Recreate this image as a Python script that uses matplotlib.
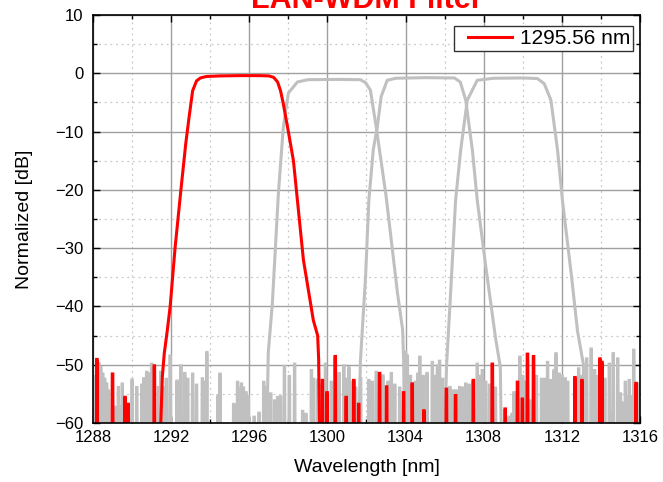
import matplotlib
matplotlib.use("Agg")
import matplotlib.pyplot as plt
from matplotlib.ticker import MultipleLocator
from matplotlib.legend_handler import HandlerLine2D

plt.rcParams['font.family'] = ['Liberation Sans', 'DejaVu Sans']

# ---- data ----
FLOOR = -70.0

red_wl = [1291.45, 1291.55, 1291.65, 1291.8, 1291.95, 1292.2, 1292.5, 1292.75, 1292.9,
          1293.1, 1293.3, 1293.5, 1293.8, 1294.5, 1295.5, 1296.5, 1297.0, 1297.25,
          1297.45, 1297.6, 1297.74, 1298.0, 1298.26, 1298.77, 1299.28, 1299.5, 1299.55, 1299.6]
red_db = [-62, -52, -48, -44.2, -40, -30, -20, -12, -8,
          -3, -1.3, -0.8, -0.55, -0.45, -0.4, -0.4, -0.45, -0.7,
          -1.5, -3, -5.2, -10, -15, -32, -42.4, -45, -49, -62]

g2_wl = [1296.9, 1296.97, 1297.18, 1297.49, 1297.74, 1298.0, 1298.46, 1299.0, 1300.5, 1301.69,
         1301.95, 1302.2, 1302.5, 1303.0, 1303.59, 1303.85, 1303.9, 1303.95]
g2_db = [-62, -48, -39.5, -20.6, -9.3, -3.4, -1.5, -1.1, -1.05, -1.1,
         -1.6, -2.9, -9.3, -21, -37.8, -44, -49.3, -62]

g3_wl = [1301.6, 1301.69, 1301.95, 1302.12, 1302.35, 1302.55, 1302.75, 1303.06, 1303.5, 1305.0, 1306.5,
         1306.8, 1307.08, 1307.42, 1307.67, 1308.1, 1308.6, 1308.85, 1308.9]
g3_db = [-62, -49.3, -35, -21.8, -13, -9.3, -4, -1.2, -0.85, -0.75, -0.8,
         -1.5, -4.6, -13.2, -21.8, -33, -45.3, -50.4, -62]

g4_wl = [1306.0, 1306.1, 1306.3, 1306.56, 1306.82, 1307.16, 1307.67, 1308.5, 1310.0, 1310.75,
         1311.1, 1311.44, 1311.78, 1312.03, 1312.5, 1312.8, 1313.1, 1313.15]
g4_db = [-62, -50, -38, -21.8, -13.2, -4.6, -1.2, -0.85, -0.8, -0.9,
         -1.8, -4.6, -13.2, -21.8, -35, -44.2, -49.9, -62]

red_spike_wl = [1288.2, 1289.0, 1289.64, 1289.8, 1291.14, 1299.74, 1299.98, 1300.4, 1300.96,
                1301.35, 1301.6, 1302.67, 1303.03, 1303.9, 1304.34, 1304.94, 1306.09, 1306.56,
                1307.47, 1308.44, 1309.1, 1309.73, 1309.98, 1310.24, 1310.55, 1312.67, 1313.03,
                1313.95, 1314.05, 1315.8]
red_spike_db = [-49.1, -51.6, -55.6, -56.8, -50.2, -52.7, -54.8, -48.6, -55.6,
                -52.7, -56.8, -51.5, -53.8, -54.8, -53.3, -57.9, -54.2, -55.3,
                -52.7, -49.9, -57.6, -53.0, -55.9, -48.2, -48.6, -52.2, -52.7,
                -49.0, -49.6, -53.2]

gray_spike_wl = [1288.0, 1288.1, 1288.3, 1288.4, 1288.5, 1288.6, 1288.7, 1288.8, 1289.13, 1289.2,
                 1289.3, 1289.4, 1289.5, 1289.7, 1290.0, 1290.24, 1290.5, 1290.6, 1290.75, 1290.85,
                 1290.9, 1291.0, 1291.1, 1291.35, 1291.47, 1291.6, 1291.75, 1291.95, 1292.3, 1292.5,
                 1292.7, 1292.85, 1293.1, 1293.3, 1293.6, 1293.7, 1293.83, 1294.4, 1294.5, 1295.2,
                 1295.3, 1295.4, 1295.5, 1295.6, 1295.7, 1295.83, 1295.95, 1296.25, 1296.5, 1296.74,
                 1296.9, 1297.1, 1297.3, 1297.45, 1297.6, 1297.8, 1298.05, 1298.32, 1298.73, 1298.9,
                 1299.18, 1299.3, 1299.52, 1299.65, 1299.9, 1300.2, 1300.6, 1300.84, 1300.95, 1301.1,
                 1301.25, 1301.45, 1301.7, 1302.12, 1302.3, 1302.5, 1302.7, 1302.84, 1303.1, 1303.27,
                 1303.45, 1303.7, 1304.0, 1304.09, 1304.25, 1304.5, 1304.63, 1304.73, 1304.9, 1305.1,
                 1305.37, 1305.5, 1305.63, 1305.74, 1305.9, 1306.27, 1306.45, 1306.6, 1306.77, 1306.95,
                 1307.08, 1307.25, 1307.45, 1307.67, 1307.8, 1307.93, 1308.1, 1308.3, 1308.6, 1309.3,
                 1309.45, 1309.55, 1309.85, 1310.0, 1310.15, 1310.36, 1310.7, 1310.96, 1311.1, 1311.27,
                 1311.44, 1311.6, 1311.7, 1311.86, 1312.0, 1312.17, 1312.3, 1312.86, 1313.0, 1313.27,
                 1313.5, 1313.68, 1313.85, 1314.2, 1314.43, 1314.5, 1314.63, 1314.86, 1315.0, 1315.1,
                 1315.25, 1315.35, 1315.45, 1315.55, 1315.68, 1315.8, 1315.93]
gray_spike_db = [-53.0, -52.0, -49.8, -50.5, -51.6, -52.5, -53.3, -54.5, -57.3, -57.5,
                 -53.9, -57.2, -53.3, -58.5, -52.6, -53.9, -53.5, -52.4, -51.3, -52.5,
                 -51.6, -49.9, -53.5, -53.9, -51.3, -54.0, -52.5, -48.5, -52.8, -50.2,
                 -51.5, -52.5, -51.6, -53.5, -52.4, -53.0, -47.9, -55.3, -51.6, -56.8,
                 -57.0, -53.0, -54.2, -53.3, -54.0, -54.8, -55.5, -59.0, -58.3, -53.0,
                 -54.0, -55.0, -56.2, -55.6, -55.5, -50.3, -52.0, -49.9, -58.0, -58.5,
                 -51.0, -52.5, -52.6, -53.5, -49.9, -53.0, -51.5, -50.2, -52.5, -50.5,
                 -53.0, -54.0, -52.4, -52.7, -53.0, -51.3, -53.5, -51.9, -53.0, -51.5,
                 -53.5, -54.0, -47.9, -48.5, -52.0, -53.0, -51.6, -48.7, -52.0, -51.5,
                 -49.6, -52.0, -50.2, -49.4, -52.5, -53.9, -54.5, -54.5, -53.9, -54.0,
                 -53.3, -53.5, -53.0, -49.9, -52.0, -51.0, -53.0, -53.5, -54.0, -59.0,
                 -58.5, -54.8, -48.7, -52.0, -53.0, -56.2, -52.0, -52.5, -52.5, -49.6,
                 -52.7, -51.0, -48.1, -51.6, -52.0, -52.4, -53.0, -50.7, -52.0, -49.0,
                 -47.3, -51.0, -52.0, -52.5, -49.9, -58.5, -48.1, -49.0, -55.0, -56.6,
                 -53.0, -55.5, -52.7, -55.5, -47.5, -55.0, -53.3]

legend_label = "1295.56 nm"
title = "LAN-WDM Filter"
RED = "#ff0000"
GRAY = "#c0c0c0"


def spikes(wl, db, d=0.03, t=0.01):
    xs, ys = [], []
    for w, v in zip(wl, db):
        xs += [w - d, w - t, w + t, w + d]
        ys += [FLOOR, v, v, FLOOR]
    return xs, ys


class ShortLineHandler(HandlerLine2D):
    def get_xdata(self, legend, xdescent, ydescent, width, height, fontsize):
        xd, xm = super().get_xdata(legend, xdescent, ydescent, width, height, fontsize)
        x0, x1 = xd[0], xd[-1]
        return [x0 + 0.2 * (x1 - x0), x1], xm


fig = plt.figure(figsize=(6.63, 4.82), dpi=100)
ax = fig.add_axes([93 / 663, 1 - 423 / 482, (640 - 93) / 663, (423 - 15) / 482])

gx, gy = spikes(gray_spike_wl, gray_spike_db)
ax.plot(gx, gy, color=GRAY, lw=2.2, solid_joinstyle='miter')
for w, d in ((g2_wl, g2_db), (g3_wl, g3_db), (g4_wl, g4_db)):
    ax.plot(w, d, color=GRAY, lw=2.2)

rx, ry = spikes(red_spike_wl, red_spike_db)
ax.plot(rx, ry, color=RED, lw=2.3, solid_joinstyle='miter')
red_line, = ax.plot(red_wl, red_db, color=RED, lw=2.2, label=legend_label)

ax.set_xlim(1288, 1316)
ax.set_ylim(-60, 10)
ax.xaxis.set_major_locator(MultipleLocator(4))
ax.xaxis.set_minor_locator(MultipleLocator(2))
ax.yaxis.set_major_locator(MultipleLocator(10))
ax.yaxis.set_minor_locator(MultipleLocator(5))
ax.grid(which='major', color='#a0a0a0', lw=1.0)
ax.grid(which='minor', color='#c8c8c8', lw=0.9, ls=(0, (1.5, 3)))
ax.set_axisbelow(True)
ax.tick_params(which='both', direction='in', top=True, right=True, labelsize=12)
ax.tick_params(which='major', length=5, width=1.0)
ax.tick_params(which='minor', length=3, width=1.0)
ax.tick_params(axis='y', pad=7)
ax.tick_params(axis='x', pad=5)
for s in ax.spines.values():
    s.set_linewidth(1.2)

ax.set_xlabel("Wavelength [nm]", fontsize=14, labelpad=10)
ax.set_ylabel("Normalized [dB]", fontsize=14, labelpad=16)

leg = ax.legend(handles=[red_line], loc='upper right', fontsize=15, fancybox=False,
                framealpha=1, edgecolor='#333333', handlelength=2.6, borderpad=0.15,
                borderaxespad=0.0, handletextpad=0.4,
                handler_map={red_line: ShortLineHandler()},
                bbox_to_anchor=(0.988, 0.973))
leg.get_frame().set_linewidth(1.0)

fig.text((93 + 640) / 2 / 663, 1 - 8 / 482, title, color=RED, fontsize=22,
         fontweight='bold', ha='center', va='baseline')

fig.savefig("out.png", dpi=100)
